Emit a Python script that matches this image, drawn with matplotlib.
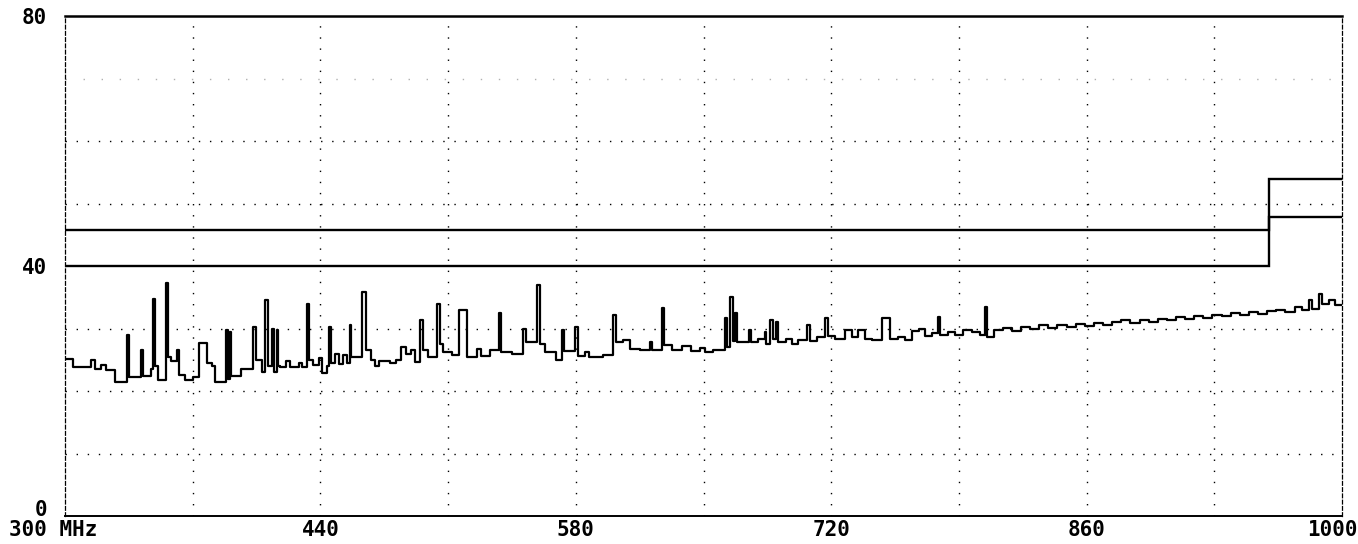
import matplotlib
matplotlib.use("Agg")
import matplotlib.pyplot as plt
import matplotlib.transforms as mtransforms

# ---------------- data ----------------
freq_mhz = [
    300.0, 304.5, 314.0, 316.5, 320.0, 322.5, 327.5, 334.2, 335.2, 341.8,
    342.8, 347.0, 348.5, 349.5, 351.0, 355.5, 356.5, 358.0, 361.5, 362.5,
    366.0, 370.0, 373.5, 378.0, 380.5, 382.0, 388.5, 389.5, 390.3, 391.2,
    396.5, 402.8, 404.8, 408.0, 409.5, 411.5, 413.3, 414.3, 416.0, 417.0,
    418.0, 421.0, 423.5, 428.0, 430.0, 432.5, 433.5, 436.0, 439.5, 441.0,
    443.5, 444.5, 446.0, 448.0, 450.0, 452.5, 454.5, 456.0, 457.0, 463.0,
    465.0, 467.5, 470.0, 472.0, 478.0, 481.5, 484.0, 487.0, 489.5, 492.0,
    494.5, 496.2, 499.0, 504.0, 505.5, 507.0, 512.0, 516.0, 520.5, 526.0,
    528.0, 533.0, 537.8, 539.0, 545.0, 551.2, 552.6, 558.8, 560.2, 563.0,
    569.0, 572.5, 573.8, 579.6, 581.0, 585.0, 587.5, 595.0, 600.4, 602.0,
    606.0, 609.7, 615.0, 620.5, 622.0, 627.3, 628.5, 633.0, 638.0, 643.0,
    648.0, 651.0, 655.0, 661.8, 663.0, 664.5, 666.0, 667.3, 668.5, 675.0,
    676.0, 680.0, 683.5, 684.5, 686.5, 688.0, 689.5, 691.0, 695.0, 698.5,
    702.0, 706.8, 708.4, 712.0, 716.6, 718.3, 722.0, 727.6, 731.4, 734.7,
    738.6, 742.4, 747.9, 752.3, 756.5, 760.5, 764.3, 768.0, 771.5, 775.0,
    778.6, 779.8, 784.0, 788.0, 792.0, 797.0, 801.5, 804.3, 805.4, 809.0,
    814.0, 819.0, 824.0, 829.0, 834.0, 839.0, 844.0, 849.0, 854.0, 859.0,
    864.0, 869.0, 874.0, 879.0, 884.0, 889.0, 894.0, 899.0, 904.0, 909.0,
    914.0, 919.0, 924.0, 929.0, 934.0, 939.0, 944.0, 949.0, 954.0, 959.0,
    964.0, 969.0, 974.0, 978.0, 982.0, 983.5, 987.5, 989.0, 993.0, 996.0,
    1000.0,
]
level_dbuv = [
    25.2, 23.8, 25.0, 23.5, 24.2, 23.4, 21.4, 29.0, 22.3, 26.5,
    22.4, 23.5, 34.8, 24.0, 21.8, 37.3, 25.5, 24.8, 26.6, 22.5,
    21.8, 22.2, 27.7, 24.5, 24.0, 21.5, 29.8, 22.0, 29.5, 22.4,
    23.5, 30.3, 25.0, 23.0, 34.6, 24.0, 30.0, 23.0, 29.8, 24.0,
    23.9, 24.8, 23.8, 24.5, 23.9, 34.0, 25.0, 24.2, 25.3, 22.9,
    24.0, 30.3, 24.5, 26.0, 24.3, 25.8, 24.5, 30.5, 25.5, 35.8,
    26.5, 25.0, 24.0, 24.8, 24.5, 25.0, 27.0, 26.0, 26.6, 24.6,
    31.4, 26.5, 25.4, 34.0, 27.5, 26.2, 25.8, 33.0, 25.5, 26.7,
    25.6, 26.6, 32.5, 26.2, 25.9, 30.0, 27.8, 37.0, 27.5, 26.3,
    25.0, 29.8, 26.4, 30.2, 25.6, 26.3, 25.5, 25.8, 32.2, 27.8,
    28.2, 26.7, 26.5, 27.8, 26.6, 33.3, 27.3, 26.5, 27.2, 26.4,
    26.9, 26.2, 26.6, 31.7, 27.0, 35.0, 28.0, 32.5, 27.8, 29.8,
    27.9, 28.3, 29.5, 27.6, 31.4, 28.3, 31.0, 27.8, 28.3, 27.6,
    28.2, 30.6, 28.0, 28.6, 31.7, 28.8, 28.4, 29.8, 28.6, 29.7,
    28.4, 28.2, 31.7, 28.4, 28.7, 28.2, 29.6, 30.0, 28.8, 29.3,
    31.9, 29.0, 29.4, 28.9, 29.8, 29.5, 28.9, 33.4, 28.6, 29.8,
    30.1, 29.6, 30.3, 29.9, 30.5, 30.1, 30.6, 30.2, 30.8, 30.4,
    30.9, 30.5, 31.0, 31.3, 30.9, 31.4, 31.1, 31.6, 31.3, 31.8,
    31.5, 32.0, 31.7, 32.2, 32.0, 32.5, 32.1, 32.6, 32.3, 32.8,
    33.0, 32.6, 33.4, 33.0, 34.6, 33.2, 35.6, 34.0, 34.6, 33.8,
    33.8,
]

limit_edges = [300, 960, 1000]
lower_limit = [40.0, 47.8]
upper_limit = [45.8, 54.0]

x_ticks = [300, 440, 580, 720, 860, 1000]
x_tick_labels = ["300 MHz", "440", "580", "720", "860", "1000"]
y_ticks = [0, 40, 80]
y_tick_labels = ["0", "40", "80"]

# ---------------- plot ----------------
W, H, DPI = 1358, 544, 100
fig = plt.figure(figsize=(W / DPI, H / DPI), dpi=DPI)
ax = fig.add_axes([65 / W, 1 - 516 / H, (1342 - 65) / W, (516 - 16) / H])

ax.set_xlim(300, 1000)
ax.set_ylim(0, 80)

# dotted grid
dot = (0, (1, 7))
for gx in range(370, 1000, 70):
    ax.axvline(gx, color="black", lw=1.0, ls=dot, zorder=1)
for gy in range(10, 80, 10):
    if gy == 40:
        continue
    c = "#b0b0b0" if gy == 70 else "black"
    ax.axhline(gy, color=c, lw=1.0, ls=(0, (1, 12)) if gy == 70 else dot, zorder=1)

# limit lines
ax.stairs(lower_limit, limit_edges, color="black", lw=1.7, baseline=None, zorder=3)
ax.stairs(upper_limit, limit_edges, color="black", lw=1.7, baseline=None, zorder=3)

# measured trace
ax.step(freq_mhz, level_dbuv, where="post", color="black", lw=1.6, zorder=4)

# spines
for s in ["left", "right"]:
    ax.spines[s].set_linestyle((0, (3, 2)))
    ax.spines[s].set_linewidth(0.9)
ax.spines["top"].set_linewidth(1.8)
ax.spines["bottom"].set_linewidth(1.4)

mono = {"family": "DejaVu Sans Mono", "weight": "bold", "size": 15}
ax.set_xticks(x_ticks)
ax.set_xticklabels(x_tick_labels, fontdict=mono)
ax.set_yticks(y_ticks)
ax.set_yticklabels(y_tick_labels, fontdict=mono)
ax.tick_params(length=0)
ax.tick_params(axis="x", pad=3)
ax.tick_params(axis="y", pad=13)

def shift(lbl, dx, dy):
    lbl.set_transform(lbl.get_transform() +
                      mtransforms.ScaledTranslation(dx / DPI, dy / DPI, fig.dpi_scale_trans))

xl = ax.get_xticklabels()
shift(xl[0], -12, 0)
shift(xl[-1], -10, 0)
yl = ax.get_yticklabels()
shift(yl[0], 0, 8)

fig.savefig("out.png", dpi=DPI, facecolor="white")
